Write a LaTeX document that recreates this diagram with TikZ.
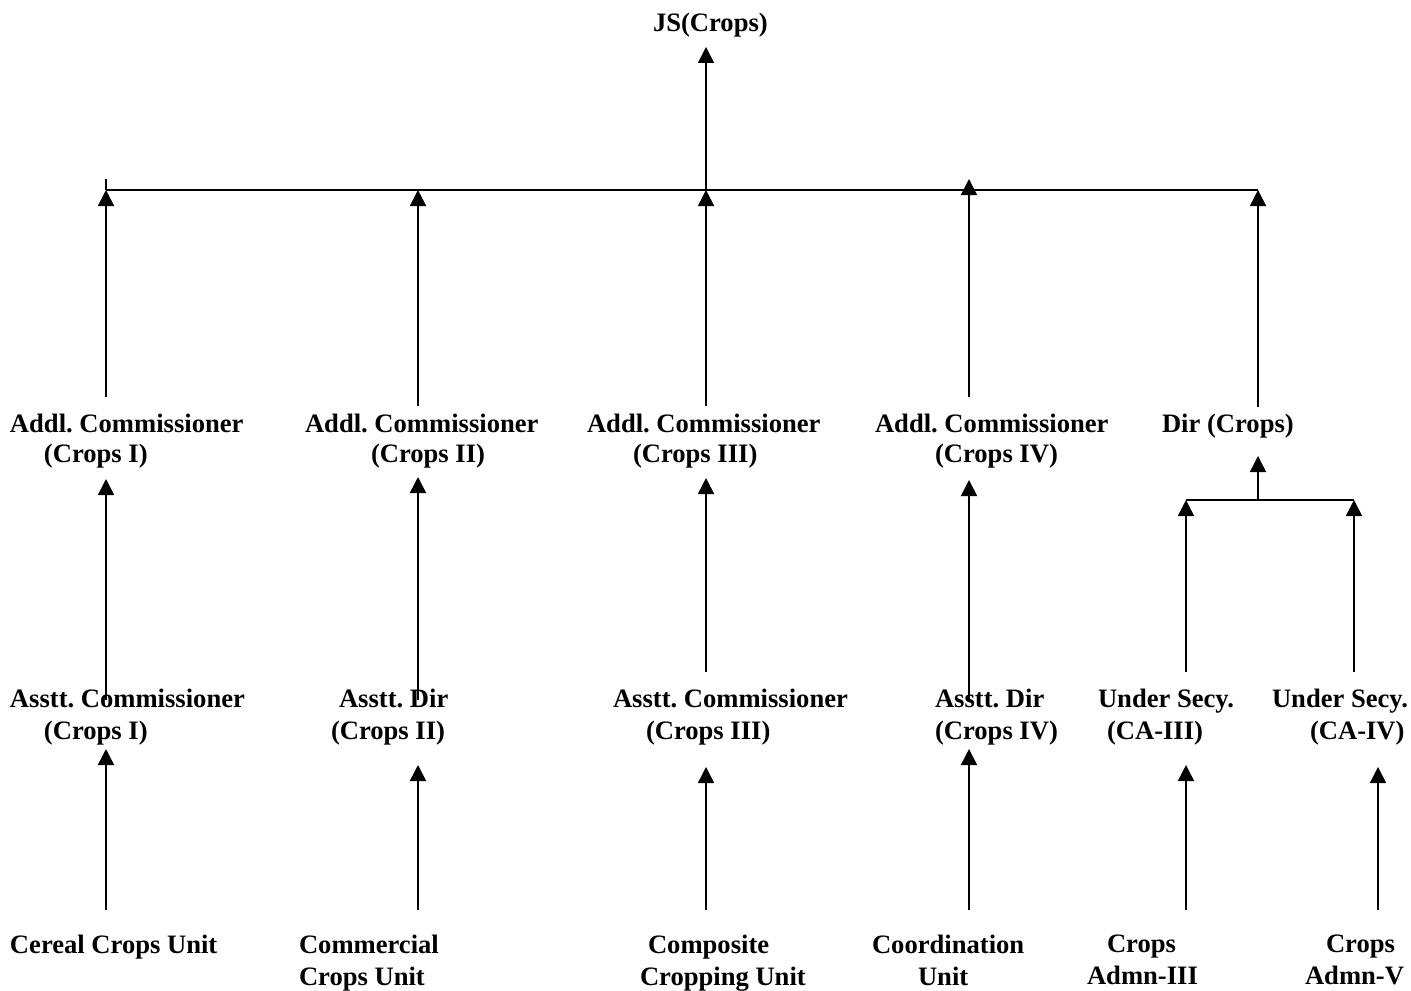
\documentclass[tikz,border=0pt]{standalone}
\usepackage{fontspec}
\setmainfont{Liberation Serif}
\usetikzlibrary{arrows.meta}
\frenchspacing
\begin{document}
\begin{tikzpicture}[x=0.5pt,y=-0.5pt,
  lbl/.style={font=\bfseries\fontsize{13.3}{16}\selectfont, inner sep=0pt, outer sep=0pt, align=left, anchor=north west},
  lbs/.style={font=\bfseries\fontsize{13.3}{16}\selectfont, inner sep=0pt, outer sep=0pt, anchor=base west},
  conn/.style={line width=0.8pt},
  arr/.style={line width=0.8pt, -{Triangle[length=8pt,width=8pt]}}]
\useasboundingbox (0,0) rectangle (1411,990);
% top
\node[lbs] (js) at (653,32) {JS(Crops)};
% level 2
\node[lbl] (a1) at (10,414) {Addl. Commissioner\\[-1pt]\hspace*{17pt}(Crops I)};
\node[lbl] (a2) at (305,414) {Addl. Commissioner\\[-1pt]\hspace*{33pt}(Crops II)};
\node[lbl] (a3) at (587,414) {Addl. Commissioner\\[-1pt]\hspace*{23pt}(Crops III)};
\node[lbl] (a4) at (875,414) {Addl. Commissioner\\[-1pt]\hspace*{30pt}(Crops IV)};
\node[lbs] (a5) at (1162,432) {Dir (Crops)};
% level 3
\node[lbl] (s1) at (10,689) {Asstt. Commissioner\\\hspace*{17pt}(Crops I)};
\node[lbl] (s2) at (331,689) {\hspace*{4pt}Asstt. Dir\\(Crops II)};
\node[lbl] (s3) at (613,689) {Asstt. Commissioner\\\hspace*{16.5pt}(Crops III)};
\node[lbl] (s4) at (935,689) {Asstt. Dir\\(Crops IV)};
\node[lbl] (s5) at (1098,689) {Under Secy.\\\hspace*{4.5pt}(CA-III)};
\node[lbl] (s6) at (1272,689) {Under Secy.\\\hspace*{19pt}(CA-IV)};
% level 4
\node[lbs] (u1) at (10,953) {Cereal Crops Unit};
\node[lbl] (u2) at (299,935) {Commercial\\Crops Unit};
\node[lbl] (u3) at (640,935) {\hspace*{4pt}Composite\\Cropping Unit};
\node[lbl] (u4) at (872,935) {Coordination\\\hspace*{23pt}Unit};
\node[lbl] (u5) at (1087,935) {\hspace*{10pt}Crops\\Admn-III};
\node[lbl] (u6) at (1305,935) {\hspace*{10.5pt}Crops\\Admn-V};
% coordinates: top bus
\coordinate (jsin) at (706,47);
\coordinate (hub) at (706,190);
\coordinate (b1) at (106,190);
\coordinate (b1s) at (106,179);
\coordinate (b2) at (418,190);
\coordinate (b4) at (969,179);
\coordinate (b5) at (1258,190);
% level 2 arrow starts / tips
\coordinate (a1t) at (106,397);
\coordinate (a2t) at (418,406);
\coordinate (a3t) at (706,406);
\coordinate (a4t) at (969,397);
\coordinate (a5t) at (1258,407);
\coordinate (a1b) at (106,479);
\coordinate (a2b) at (418,477);
\coordinate (a3b) at (706,478);
\coordinate (a4b) at (969,480);
\coordinate (a5b) at (1258,456);
% level 3
\coordinate (s1t) at (106,700);
\coordinate (s2t) at (418,700);
\coordinate (s3t) at (706,672);
\coordinate (s4t) at (969,700);
\coordinate (s5t) at (1186,672);
\coordinate (s6t) at (1354,672);
\coordinate (dj) at (1258,500);
\coordinate (d5) at (1186,500);
\coordinate (d6) at (1354,500);
\coordinate (s1b) at (106,749);
\coordinate (s2b) at (418,765);
\coordinate (s3b) at (706,767);
\coordinate (s4b) at (969,749);
\coordinate (s5b) at (1186,765);
\coordinate (s6b) at (1378,767);
% level 4
\coordinate (u1t) at (106,910);
\coordinate (u2t) at (418,910);
\coordinate (u3t) at (706,910);
\coordinate (u4t) at (969,910);
\coordinate (u5t) at (1186,910);
\coordinate (u6t) at (1378,910);
% connectors
\draw[conn] (b1) -- (b5);
\draw[conn] (b1) -- (b1s);
\draw[arr] (hub) -- (jsin);
\draw[arr] (a1t) -- (b1);
\draw[arr] (a2t) -- (b2);
\draw[arr] (a3t) -- (hub);
\draw[arr] (a4t) -- (b4);
\draw[arr] (a5t) -- (b5);
\draw[arr] (s1t) -- (a1b);
\draw[arr] (s2t) -- (a2b);
\draw[arr] (s3t) -- (a3b);
\draw[arr] (s4t) -- (a4b);
\draw[conn] (d5) -- (d6);
\draw[arr] (dj) -- (a5b);
\draw[arr] (s5t) -- (d5);
\draw[arr] (s6t) -- (d6);
\draw[arr] (u1t) -- (s1b);
\draw[arr] (u2t) -- (s2b);
\draw[arr] (u3t) -- (s3b);
\draw[arr] (u4t) -- (s4b);
\draw[arr] (u5t) -- (s5b);
\draw[arr] (u6t) -- (s6b);
\end{tikzpicture}
\end{document}
